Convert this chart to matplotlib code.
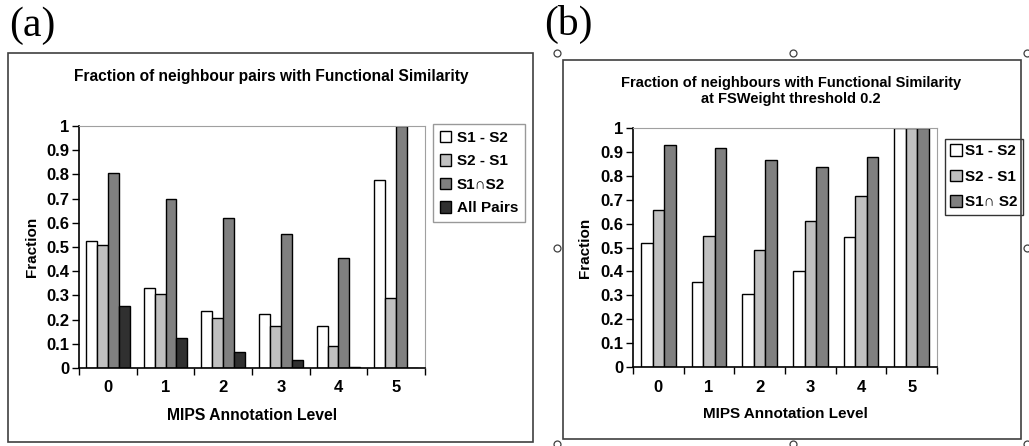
import matplotlib.pyplot as plt
import matplotlib.patches as mpatches
from matplotlib.lines import Line2D
import numpy as np

plt.rcParams['font.family'] = ['Liberation Sans', 'DejaVu Sans']
plt.rcParams['font.weight'] = 'bold'

levels = ['0', '1', '2', '3', '4', '5']

# panel (a): fraction of neighbour pairs
a_labels = ['S1 - S2', 'S2 - S1', 'S1\u2229S2', 'All Pairs']
a_s1_s2 = [0.525, 0.33, 0.235, 0.225, 0.175, 0.775]
a_s2_s1 = [0.51, 0.305, 0.205, 0.175, 0.09, 0.29]
a_inter = [0.805, 0.70, 0.62, 0.555, 0.455, 1.0]
a_all = [0.255, 0.125, 0.065, 0.035, 0.005, 0.0]

# panel (b): FSWeight threshold 0.2
b_labels = ['S1 - S2', 'S2 - S1', 'S1\u2229 S2']
b_s1_s2 = [0.52, 0.355, 0.305, 0.40, 0.545, 1.0]
b_s2_s1 = [0.655, 0.55, 0.49, 0.61, 0.715, 1.0]
b_inter = [0.93, 0.915, 0.865, 0.835, 0.88, 1.0]

colors = ['white', '#c0c0c0', '#808080', '#303030']

W, H = 1029, 446
fig = plt.figure(figsize=(W / 100, H / 100), dpi=100)


def fx(px):
    return px / W


def fy(py):
    return 1 - py / H


def style_axes(ax, size):
    ax.set_ylim(0, 1)
    ax.set_xlim(-0.5, 5.5)
    ax.set_yticks(np.arange(0, 1.01, 0.1))
    ax.set_yticklabels(['0', '0.1', '0.2', '0.3', '0.4', '0.5', '0.6', '0.7', '0.8', '0.9', '1'])
    ax.set_xticks(range(6))
    ax.set_xticklabels(levels)
    ax.set_xticks(np.arange(-0.5, 6, 1), minor=True)
    ax.tick_params(axis='x', which='major', length=0, pad=9, labelsize=size)
    ax.tick_params(axis='x', which='minor', length=5, direction='out', width=1)
    ax.tick_params(axis='y', length=5, direction='out', width=1, labelsize=size, pad=2)
    for s in ['top', 'right']:
        ax.spines[s].set_color('#a0a0a0')
    for s in ['left', 'bottom']:
        ax.spines[s].set_color('black')
        ax.spines[s].set_linewidth(1.2)
    for lab in ax.get_xticklabels() + ax.get_yticklabels():
        lab.set_fontweight('bold')


# frames
fig.patches.append(mpatches.Rectangle((fx(8), fy(442)), fx(533) - fx(8), fy(53) - fy(442),
                                      transform=fig.transFigure, fill=False, edgecolor='#404040', lw=1.2))
fig.patches.append(mpatches.Rectangle((fx(563), fy(439)), fx(1021) - fx(563), fy(60) - fy(439),
                                      transform=fig.transFigure, fill=False, edgecolor='#404040', lw=1.2))

# panel letters
fig.text(fx(9), fy(26), '(a)', family='Liberation Serif', fontweight='normal', fontsize=30, va='center')
fig.text(fx(544), fy(24), '(b)', family='Liberation Serif', fontweight='normal', fontsize=30, va='center')

# selection handles around (b)
hx = [557, 793, 1027, 557, 1027, 557, 793, 1027]
hy = [53, 53, 53, 248, 248, 444, 444, 444]
fig.add_artist(Line2D([fx(v) for v in hx], [fy(v) for v in hy], transform=fig.transFigure,
                      ls='none', marker='o', ms=5, mfc='white', mec='#404040', mew=0.9))

# ---- panel (a)
ax1 = fig.add_axes([fx(79), fy(368), fx(425) - fx(79), fy(126) - fy(368)])
x = np.arange(6)
bw = 0.19
series_a = [a_s1_s2, a_s2_s1, a_inter, a_all]
for i, vals in enumerate(series_a):
    ax1.bar(x + (i - 1.5) * bw, vals, bw, color=colors[i], edgecolor='black', lw=1.0, label=a_labels[i])
style_axes(ax1, 12)
ax1.set_ylabel('Fraction', fontsize=11, fontweight='bold', labelpad=5)
ax1.set_xlabel('MIPS Annotation Level', fontsize=11.3, fontweight='bold', labelpad=9)
fig.text(fx(271), fy(76), 'Fraction of neighbour pairs with Functional Similarity',
         ha='center', va='center', fontsize=11.2, fontweight='bold')
ax1.legend(loc='upper left', bbox_to_anchor=(fx(433), fy(124)), bbox_transform=fig.transFigure,
           frameon=True, fancybox=False, edgecolor='#808080', handlelength=0.75,
           handleheight=0.75, handletextpad=0.35, labelspacing=0.62, borderaxespad=0, borderpad=0.45,
           prop={'weight': 'bold', 'size': 11})

# ---- panel (b)
ax2 = fig.add_axes([fx(633), fy(367), fx(937) - fx(633), fy(128) - fy(367)])
bw = 0.23
series_b = [b_s1_s2, b_s2_s1, b_inter]
for i, vals in enumerate(series_b):
    ax2.bar(x + (i - 1) * bw, vals, bw, color=colors[i], edgecolor='black', lw=1.0, label=b_labels[i])
style_axes(ax2, 12)
ax2.set_ylabel('Fraction', fontsize=11, fontweight='bold', labelpad=6)
ax2.set_xlabel('MIPS Annotation Level', fontsize=11, fontweight='bold', labelpad=9)
fig.text(fx(791), fy(91), 'Fraction of neighbours with Functional Similarity\nat FSWeight threshold 0.2',
         ha='center', va='center', fontsize=10.5, fontweight='bold', linespacing=1.25)
ax2.legend(loc='upper left', bbox_to_anchor=(fx(945), fy(139)), bbox_transform=fig.transFigure,
           frameon=True, fancybox=False, edgecolor='black', handlelength=0.75,
           handleheight=0.75, handletextpad=0.2, labelspacing=0.75, borderaxespad=0, borderpad=0.35,
           prop={'weight': 'bold', 'size': 11})

fig.savefig('out.png', dpi=100)
